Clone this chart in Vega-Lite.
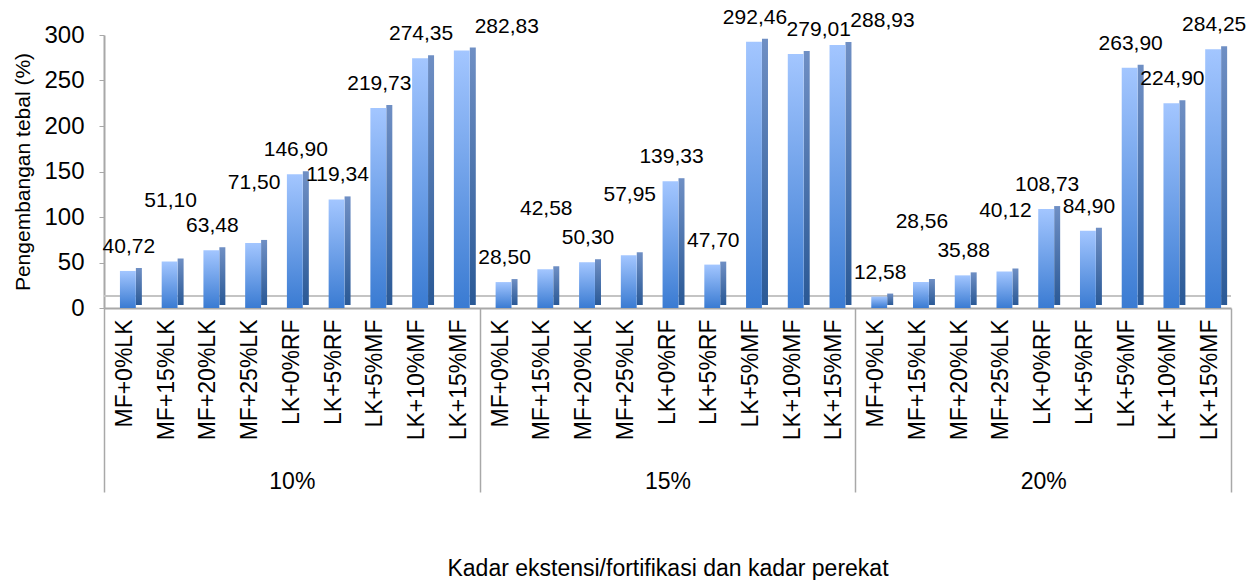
{
  "$schema": "https://vega.github.io/schema/vega-lite/v6.json",
  "width": 1127,
  "height": 273,
  "autosize": {"type": "none"},
  "padding": {"left": 104, "top": 35, "right": 28, "bottom": 272},
  "background": "white",
  "config": {
    "locale": {"number": {"decimal": ",", "thousands": ".", "grouping": [3], "currency": ["", ""]}},
    "font": "Liberation Sans",
    "view": {"stroke": null},
    "axis": {"labelFont": "Liberation Sans", "titleFont": "Liberation Sans", "labelColor": "#000", "titleColor": "#000", "titleFontWeight": "normal", "grid": false}
  },
  "datasets": {
    "bars": [
      {"group": "10%", "cat": "MF+0%LK", "key": "10%|MF+0%LK", "value": 40.72},
      {"group": "10%", "cat": "MF+15%LK", "key": "10%|MF+15%LK", "value": 51.10},
      {"group": "10%", "cat": "MF+20%LK", "key": "10%|MF+20%LK", "value": 63.48},
      {"group": "10%", "cat": "MF+25%LK", "key": "10%|MF+25%LK", "value": 71.50},
      {"group": "10%", "cat": "LK+0%RF", "key": "10%|LK+0%RF", "value": 146.90},
      {"group": "10%", "cat": "LK+5%RF", "key": "10%|LK+5%RF", "value": 119.34},
      {"group": "10%", "cat": "LK+5%MF", "key": "10%|LK+5%MF", "value": 219.73},
      {"group": "10%", "cat": "LK+10%MF", "key": "10%|LK+10%MF", "value": 274.35},
      {"group": "10%", "cat": "LK+15%MF", "key": "10%|LK+15%MF", "value": 282.83},
      {"group": "15%", "cat": "MF+0%LK", "key": "15%|MF+0%LK", "value": 28.50},
      {"group": "15%", "cat": "MF+15%LK", "key": "15%|MF+15%LK", "value": 42.58},
      {"group": "15%", "cat": "MF+20%LK", "key": "15%|MF+20%LK", "value": 50.30},
      {"group": "15%", "cat": "MF+25%LK", "key": "15%|MF+25%LK", "value": 57.95},
      {"group": "15%", "cat": "LK+0%RF", "key": "15%|LK+0%RF", "value": 139.33},
      {"group": "15%", "cat": "LK+5%RF", "key": "15%|LK+5%RF", "value": 47.70},
      {"group": "15%", "cat": "LK+5%MF", "key": "15%|LK+5%MF", "value": 292.46},
      {"group": "15%", "cat": "LK+10%MF", "key": "15%|LK+10%MF", "value": 279.01},
      {"group": "15%", "cat": "LK+15%MF", "key": "15%|LK+15%MF", "value": 288.93},
      {"group": "20%", "cat": "MF+0%LK", "key": "20%|MF+0%LK", "value": 12.58},
      {"group": "20%", "cat": "MF+15%LK", "key": "20%|MF+15%LK", "value": 28.56},
      {"group": "20%", "cat": "MF+20%LK", "key": "20%|MF+20%LK", "value": 35.88},
      {"group": "20%", "cat": "MF+25%LK", "key": "20%|MF+25%LK", "value": 40.12},
      {"group": "20%", "cat": "LK+0%RF", "key": "20%|LK+0%RF", "value": 108.73},
      {"group": "20%", "cat": "LK+5%RF", "key": "20%|LK+5%RF", "value": 84.90},
      {"group": "20%", "cat": "LK+5%MF", "key": "20%|LK+5%MF", "value": 263.90},
      {"group": "20%", "cat": "LK+10%MF", "key": "20%|LK+10%MF", "value": 224.90},
      {"group": "20%", "cat": "LK+15%MF", "key": "20%|LK+15%MF", "value": 284.25}
    ],
    "groups": [{"group": "10%"}, {"group": "15%"}, {"group": "20%"}]
  },
  "layer": [
    {
      "data": {"name": "bars"},
      "encoding": {
        "x": {
          "field": "key", "type": "nominal", "sort": null,
          "scale": {"paddingInner": 0.62, "paddingOuter": 0.31},
          "axis": {
            "orient": "bottom",
            "title": null, "labelExpr": "split(datum.label, '|')[1]", "labelAngle": -90,
            "labelFontSize": 23, "labelPadding": 11, "ticks": false,
            "domainColor": "#a8a8a8", "domainWidth": 2
          }
        },
        "y": {
          "field": "value", "type": "quantitative",
          "scale": {"domain": [0, 300], "nice": false},
          "axis": {
            "title": "Pengembangan tebal (%)", "titleFontSize": 21, "titlePadding": 10,
            "values": [0, 50, 100, 150, 200, 250, 300], "labelFontSize": 24,
            "tickSize": 5, "tickColor": "#a8a8a8", "domainColor": "#a8a8a8", "domainWidth": 2, "labelPadding": 15
          }
        }
      },
      "layer": [
        {
          "mark": {"type": "rule", "color": "#c4c4c4", "strokeWidth": 1.5},
          "encoding": {"x": null, "y": {"datum": 13, "type": "quantitative"}}
        },
        {
          "mark": {
            "type": "bar", "width": 6, "xOffset": 14, "yOffset": -3,
            "color": {"gradient": "linear", "x1": 0, "y1": 0, "x2": 0, "y2": 1,
              "stops": [{"offset": 0, "color": "#6f8fc4"}, {"offset": 1, "color": "#2a5996"}]}
          }
        },
        {
          "mark": {
            "type": "bar", "xOffset": 3,
            "color": {"gradient": "linear", "x1": 0, "y1": 0, "x2": 0, "y2": 1,
              "stops": [{"offset": 0, "color": "#a3c6ff"}, {"offset": 1, "color": "#3a7bd2"}]}
          }
        },
        {
          "transform": [
            {"window": [{"op": "row_number", "as": "rn"}, {"op": "lag", "field": "value", "as": "prev"}], "groupby": ["group"]}
          ],
          "mark": {
            "type": "text", "baseline": "bottom", "fontSize": 21, "font": "Liberation Sans", "color": "#000",
            "dy": {"expr": "datum.rn % 2 == 0 && datum.value > datum.prev && datum.value < 150 ? -50 : -14"},
            "dx": {"expr": "datum.prev > 250 && datum.value > 250 ? (datum.value > datum.prev ? 48 : 26) : 4"}
          },
          "encoding": {"text": {"field": "value", "type": "quantitative", "format": ".2f"}}
        }
      ]
    },
    {
      "data": {"name": "groups"},
      "mark": {"type": "rule", "opacity": 0},
      "encoding": {
        "x": {
          "field": "group", "type": "nominal", "sort": null,
          "scale": {"paddingInner": 0, "paddingOuter": 0},
          "axis": {
            "orient": "bottom",
            "title": "Kadar ekstensi/fortifikasi dan kadar perekat", "titleFontSize": 23, "titlePadding": 64,
            "labelAngle": 0, "labelFontSize": 23, "labelPadding": -22, "tickBand": "extent",
            "tickSize": 184, "tickColor": "#a8a8a8", "tickWidth": 1.5, "domain": false
          }
        }
      }
    }
  ],
  "resolve": {"scale": {"x": "independent"}, "axis": {"x": "independent"}}
}
